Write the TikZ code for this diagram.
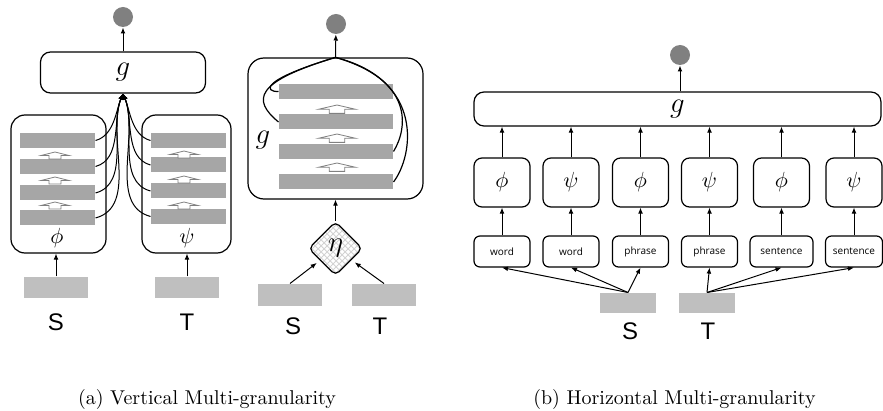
\documentclass[tikz,border=0pt]{standalone}
\usepackage{fontspec}
\newfontfamily\labelfont{Liberation Sans}
\newfontfamily\granfont{Open Sans}
\usetikzlibrary{arrows.meta,shapes.geometric,patterns}

\definecolor{barGray}{HTML}{A6A6A6}
\definecolor{srcGray}{HTML}{BFBFBF}
\definecolor{outGray}{HTML}{808080}

\tikzset{
  pics/blockup/.style={code={
    \draw[draw=gray, fill=white, line width=0.4pt]
      (-6,7) -- (-6,3.5) -- (-14,3.5) -- (0,0) -- (14,3.5) -- (6,3.5) -- (6,7) -- cycle;
  }}
}

\begin{document}
\begin{tikzpicture}[x=0.5pt,y=-0.5pt, line width=0.5pt,
    >={Latex[length=3pt,width=2.4pt]},
    roundbox/.style={draw, rounded corners=4pt, line width=0.6pt, inner sep=0pt},
    bar/.style={fill=barGray, inner sep=0pt, minimum height=7.5pt},
    src/.style={fill=srcGray, inner sep=0pt, minimum width=32pt, minimum height=10.5pt},
    outdot/.style={circle, fill=outGray, inner sep=0pt, minimum size=10pt},
    letter/.style={font=\labelfont\fontsize{12}{14}\selectfont, inner sep=0pt},
    bigmath/.style={font=\fontsize{14}{16}\selectfont, inner sep=0pt},
    func/.style={roundbox, minimum width=28pt, minimum height=24.5pt, font=\fontsize{10.5}{12}\selectfont},
    gran/.style={roundbox, rounded corners=3pt, minimum height=15.5pt, font=\granfont\fontsize{5}{6}\selectfont},
  ]
  \useasboundingbox (0,0) rectangle (883,411);

  % (a) left: stacked encoders phi / psi feeding g
  \node[roundbox, rounded corners=5pt, minimum width=82.5pt, minimum height=20.5pt, bigmath] (gA) at (123,72.5) {$g$};
  \node[outdot] (outA) at (123,17) {};
  \draw[->] (gA.north) -- (outA);

  \node[roundbox, rounded corners=7pt, minimum width=47.5pt, minimum height=69pt] (phiA) at (58.5,184) {};
  \node[font=\fontsize{10.5}{12}\selectfont] (phiLab) at (57,238) {$\phi$};
  \node[roundbox, rounded corners=7pt, minimum width=44.5pt, minimum height=69pt] (psiA) at (186.5,184) {};
  \node[font=\fontsize{10.5}{12}\selectfont] (psiLab) at (187,238) {$\psi$};

  \foreach \y [count=\i] in {140.5,166.5,193,218}
    \node[bar, minimum width=37.5pt] (phiBar\i) at (57.5,\y) {};
  \foreach \y [count=\i] in {140.5,165,191,216.5}
    \node[bar, minimum width=37.5pt] (psiBar\i) at (188.5,\y) {};
  \foreach \y in {152,177,202}
    \pic at (55,\y) {blockup};
  \foreach \y in {151,176,202}
    \pic at (184,\y) {blockup};

  \foreach \i in {1,...,4} {
    \draw[->] (phiBar\i.east) to[out=15,in=-112,looseness=0.9] (gA.south);
    \draw[->] (psiBar\i.west) to[out=165,in=-68,looseness=0.9] (gA.south);
  }

  \node[src] (srcSA) at (56,287.5) {};
  \node[src] (srcTA) at (187,287.5) {};
  \draw[->] (srcSA.north) -- (srcSA.north |- phiA.south);
  \draw[->] (srcTA.north) -- (srcTA.north |- psiA.south);
  \node[letter] (labSA) at (56,322) {S};
  \node[letter] (labTA) at (187,322) {T};

  % (a) right: one g over the joint input eta
  \node[roundbox, rounded corners=8pt, minimum width=87.5pt, minimum height=70.5pt] (gB) at (335.5,128.5) {};
  \node[outdot] (outB) at (336,24) {};
  \draw[->] (gB.north) -- (outB);
  \node[bigmath] (gBLab) at (263,140) {$g$};

  \foreach \y [count=\i] in {91.5,122,151.5,182}
    \node[bar, minimum width=57pt] (gBar\i) at (336,\y) {};
  \foreach \y in {105,134,163}
    \pic[xscale=1.3, yscale=1.2] at (337,\y) {blockup};

  \draw[line width=0.6pt] (gBar1.west) .. controls (264,92) and (260,80) .. (gB.north);
  \draw[line width=0.6pt] (gBar2.west) .. controls (252,100) and (254,82) .. (gB.north);
  \draw[line width=0.6pt] (gBar3.east) .. controls (408,128) and (414,80) .. (gB.north);
  \draw[line width=0.6pt] (gBar4.east) .. controls (414,155) and (424,80) .. (gB.north);

  \node[diamond, aspect=1, draw, line width=0.6pt, rounded corners=2.5pt, inner sep=0pt,
        minimum width=27pt, minimum height=27pt,
        pattern=crosshatch, pattern color=gray!35, bigmath] (eta) at (335.5,248.5) {$\eta$};
  \draw[->] (eta) -- (gB.south);

  \node[src, minimum height=11pt] (srcSB) at (290,295) {};
  \node[src, minimum height=11pt] (srcTB) at (384,295) {};
  \draw[->, shorten >=2pt] (srcSB.north) -- (eta);
  \draw[->, shorten >=2pt] (srcTB.north) -- (eta);
  \node[letter] (labSB) at (293,326) {S};
  \node[letter] (labTB) at (380,326) {T};

  % (b): one encoder per granularity, all into g
  \node[outdot] (outC) at (680,55) {};
  \node[roundbox, rounded corners=5pt, minimum width=203.5pt, minimum height=17pt, bigmath] (gC) at (677.5,109) {$g$};
  \draw[->] (outC |- gC.north) -- (outC);

  \foreach \x/\f/\w/\t [count=\i] in {502/\phi/28/word, 571/\psi/28/word, 640.5/\phi/28/phrase,
                                      709.5/\psi/28/phrase, 781.5/\phi/31.5/sentence, 854/\psi/28.5/sentence} {
    \node[func] (fn\i) at (\x,182.5) {$\f$};
    \node[gran, minimum width=\w pt] (gr\i) at (\x,251.5) {\t};
    \draw[->] (gr\i) -- (fn\i);
    \draw[->] (fn\i) -- (fn\i.north |- gC.south);
  }

  \node[src, minimum width=28pt, minimum height=10pt] (srcSC) at (628,303) {};
  \node[src, minimum width=28pt, minimum height=10pt] (srcTC) at (707,303) {};
  \foreach \i in {1,2,3}
    \draw[->] (srcSC.north) -- (gr\i.south);
  \foreach \i in {4,5,6}
    \draw[->] (srcTC.north) -- (gr\i.south);
  \node[letter] (labSC) at (630,331) {S};
  \node[letter] (labTC) at (708,331) {T};

  % captions
  \node[anchor=base] (capA) at (207,404) {(a) Vertical Multi-granularity};
  \node[anchor=base] (capB) at (674.5,404) {(b) Horizontal Multi-granularity};
\end{tikzpicture}
\end{document}
